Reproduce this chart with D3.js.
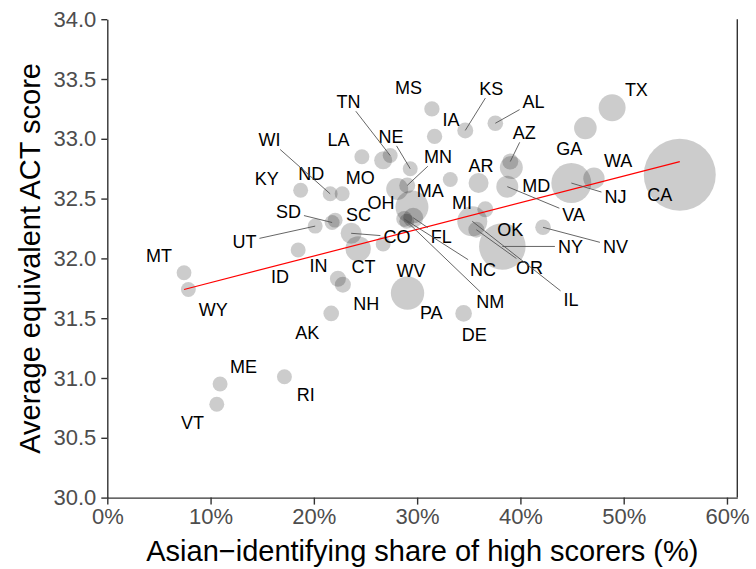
<!DOCTYPE html>
<html><head><meta charset="utf-8">
<script src="https://cdn.jsdelivr.net/npm/d3@7"></script>
<style>
body{margin:0;background:#fff}
svg{display:block}
text{font-family:"Liberation Sans",Arial,Helvetica,sans-serif}
</style>
</head><body>
<svg id="chart" width="756" height="569"></svg>
<script>
// ---- data ----
const states = ["MT","WY","ME","VT","RI","ID","AK","KY","WI","ND","UT","SD","SC","CO","CT","WV","IN","NH","PA","DE","LA","MO","TN","NE","OH","MN","MA","FL","NC","NM","MS","IA","KS","AL","MI","AR","AZ","MD","VA","OK","IL","OR","NY","NV","GA","TX","NJ","WA","CA"];
const asianShare = [7.43,7.85,10.92,10.60,17.15,18.48,21.68,18.72,21.58,22.74,20.13,21.77,22.06,23.61,24.29,26.71,22.33,22.81,29.07,34.50,24.65,26.71,27.39,29.33,28.07,29.04,29.50,29.62,28.75,28.99,31.43,31.69,34.66,37.57,33.21,35.95,39.02,39.12,38.73,36.60,35.34,35.73,38.25,42.19,46.29,48.88,44.93,47.12,55.43];
const actScore = [31.88,31.74,30.95,30.78,31.01,32.07,31.54,32.57,32.54,32.54,32.27,32.30,32.32,32.21,32.08,32.12,31.83,31.78,31.71,31.54,32.85,32.82,32.86,32.75,32.58,32.61,32.43,32.34,32.33,32.31,33.25,33.02,33.07,33.13,32.66,32.63,32.81,32.76,32.60,32.41,32.31,32.24,32.10,32.26,33.09,33.26,32.63,32.67,32.70];
const pointWeight = [55,55,56,56,56,56,61,56,56,56,56,56,56,110,161,56,64,64,279,69,56,81,56,56,121,64,272,100,64,56,59,59,64,61,56,100,64,132,121,64,225,64,543,61,128,182,400,114,1296];
// label anchor positions, in data units (share %, score)
const labelShare = [5.01,10.27,13.18,8.24,19.22,16.73,19.35,15.45,15.70,19.74,13.28,17.54,24.32,28.04,24.81,29.40,20.45,25.07,31.37,35.53,22.38,24.49,23.35,27.46,26.49,32.02,31.27,32.34,36.38,37.08,29.17,33.28,37.18,41.28,34.34,36.18,40.38,41.54,45.16,39.02,44.90,40.89,44.84,49.20,44.74,51.23,49.20,49.46,53.49];
const labelScore = [32.02,31.57,31.10,30.63,30.86,31.85,31.38,32.67,32.99,32.71,32.14,32.39,32.37,32.18,31.93,31.90,31.94,31.62,31.55,31.36,32.99,32.68,33.31,33.02,32.47,32.85,32.57,32.18,31.91,31.64,33.43,33.16,33.42,33.31,32.47,32.78,33.05,32.61,32.37,32.24,31.66,31.92,32.10,32.10,32.92,33.41,32.52,32.82,32.53];
const leaderStates = ["TN","NE","WI","MN","KS","AL","AZ","SD","UT","CO","FL","NC","NM","VA","NJ","NY","NV","OR","IL"];
const fitCoef = [31.574, 0.02229]; // intercept, slope
const xTicks = [0,10,20,30,40,50,60];
const yTicks = [30.0,30.5,31.0,31.5,32.0,32.5,33.0,33.5,34.0];
const xTitle = "Asian\u2212identifying share of high scorers (%)";
const yTitle = "Average equivalent ACT score";

// ---- layout ----
const L = 107.3, R = 737.3, T = 19.2, B = 497.6;
const x = d3.scaleLinear().domain([0,61]).range([L,R]);
const y = d3.scaleLinear().domain([30,34]).range([B,T]);
const r = d3.scaleSqrt().domain([0,1296]).range([0,36]);

const svg = d3.select("#chart");
const data = states.map((s,i)=>({s, x:asianShare[i], y:actScore[i], w:pointWeight[i], lx:labelShare[i], ly:labelScore[i]}));

// points
svg.append("g").selectAll("circle").data(data).join("circle")
  .attr("cx", d=>x(d.x)).attr("cy", d=>y(d.y)).attr("r", d=>r(d.w))
  .attr("fill", "#000").attr("fill-opacity", 0.2);

// regression line
const xmin = d3.min(asianShare), xmax = d3.max(asianShare);
svg.append("line")
  .attr("x1", x(xmin)).attr("y1", y(fitCoef[0]+fitCoef[1]*xmin))
  .attr("x2", x(xmax)).attr("y2", y(fitCoef[0]+fitCoef[1]*xmax))
  .attr("stroke", "#ff0000").attr("stroke-width", 1.2);

// labels
const fs = 18;
const lg = svg.append("g");
const segG = svg.append("g");
lg.selectAll("text").data(data).join("text")
  .attr("x", d=>x(d.lx)).attr("y", d=>y(d.ly)).attr("dy", (0.36*fs)+"px")
  .attr("text-anchor","middle").attr("font-size", fs).attr("fill","#000")
  .text(d=>d.s)
  .each(function(d){
    if(!leaderStates.includes(d.s)) return;
    const bb = this.getBBox();
    const cx = x(d.lx), cy = y(d.ly);
    const px = x(d.x), py = y(d.y);
    const hw = bb.width/2 + 3, hh = 0.36*fs + 3;
    const dx = px-cx, dy = py-cy;
    const t = Math.min(dx!==0? hw/Math.abs(dx):Infinity, dy!==0? hh/Math.abs(dy):Infinity);
    if (t >= 1) return;
    segG.append("line")
      .attr("x1", cx+dx*t).attr("y1", cy+dy*t)
      .attr("x2", px).attr("y2", py)
      .attr("stroke", "#555").attr("stroke-width", 0.9);
  });

// axes
const axisColor = "#333";
const gx = svg.append("g").attr("transform", `translate(0,${B})`)
  .call(d3.axisBottom(x).tickValues(xTicks).tickFormat(d=>d+"%").tickSize(7).tickSizeOuter(0).tickPadding(4));
const gy = svg.append("g").attr("transform", `translate(${L},0)`)
  .call(d3.axisLeft(y).tickValues(yTicks).tickFormat(d3.format(".1f")).tickSize(6).tickSizeOuter(0).tickPadding(5));
[gx,gy].forEach(g=>{
  g.select(".domain").attr("stroke", axisColor).attr("stroke-width", 1.4);
  g.selectAll(".tick line").attr("stroke", axisColor).attr("stroke-width", 1.4);
  g.selectAll(".tick text").attr("fill","#4d4d4d").attr("font-size", 22)
    .attr("font-family", "'Liberation Sans',Arial,Helvetica,sans-serif");
});
// right border
svg.append("line").attr("x1",R).attr("x2",R).attr("y1",T).attr("y2",B)
  .attr("stroke", axisColor).attr("stroke-width", 1.4);

// titles
svg.append("text").attr("x", (L+R)/2).attr("y", 561).attr("text-anchor","middle")
  .attr("font-size", 29).attr("fill","#000").text(xTitle);
svg.append("text").attr("transform", `translate(40,${(T+B)/2}) rotate(-90)`).attr("text-anchor","middle")
  .attr("font-size", 29).attr("fill","#000").text(yTitle);
</script>
</body></html>
